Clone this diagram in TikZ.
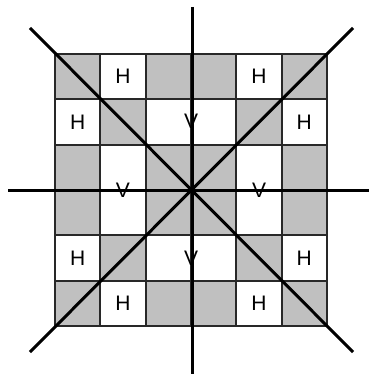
\documentclass[tikz,border=0pt]{standalone}
\usepackage{fontspec}
\setmainfont{Liberation Sans}
\definecolor{cellgrey}{RGB}{192,192,192}
\definecolor{gridline}{RGB}{40,40,40}
\tikzset{
  cell/.style={draw=gridline, line width=1.8pt, minimum size=45.33pt, inner sep=0pt, outer sep=0pt, font=\fontsize{21}{21}\selectfont},
  gcell/.style={cell, fill=cellgrey},
  wcell/.style={cell, fill=white},
  axis/.style={line width=3pt, black},
  lbl/.style={font=\fontsize{21}{21}\selectfont, inner sep=0pt}
}
\begin{document}
\begin{tikzpicture}[x=1pt,y=-1pt]
\useasboundingbox (0,0) rectangle (369,374);
% pattern: g = grey, w = white
\foreach \r/\row in {0/{g,w,g,g,w,g},1/{w,g,w,w,g,w},2/{g,w,g,g,w,g},3/{g,w,g,g,w,g},4/{w,g,w,w,g,w},5/{g,w,g,g,w,g}}{
  \foreach \t [count=\c from 0] in \row {
    \node[\t cell] (c\r\c) at ({55+45.33*(\c+0.5)},{54+45.33*(\r+0.5)}) {};
  }
}
% H labels
\node[lbl] at (c01) {H};
\node[lbl] at (c04) {H};
\node[lbl] at (c10) {H};
\node[lbl] at (c15) {H};
\node[lbl] at (c40) {H};
\node[lbl] at (c45) {H};
\node[lbl] at (c51) {H};
\node[lbl] at (c54) {H};
% V labels
\node[lbl] (vt) at (191,121.5) {V};
\node[lbl] (vb) at (191,258) {V};
\node[lbl] (vl) at (123,190.5) {V};
\node[lbl] (vr) at (259,190.5) {V};
% axes
\coordinate (o) at (191.5,190.5);
\coordinate (ht) at (192,7);
\coordinate (hb) at (192,374);
\coordinate (hl) at (8,190.5);
\coordinate (hr) at (369,190.5);
\coordinate (dtl) at (30,28);
\coordinate (dbr) at (353,352);
\coordinate (dbl) at (30,352);
\coordinate (dtr) at (353,28);
\draw[axis] (ht) -- (hb);
\draw[axis] (hl) -- (hr);
\draw[axis] (dtl) -- (dbr);
\draw[axis] (dbl) -- (dtr);
\end{tikzpicture}
\end{document}
